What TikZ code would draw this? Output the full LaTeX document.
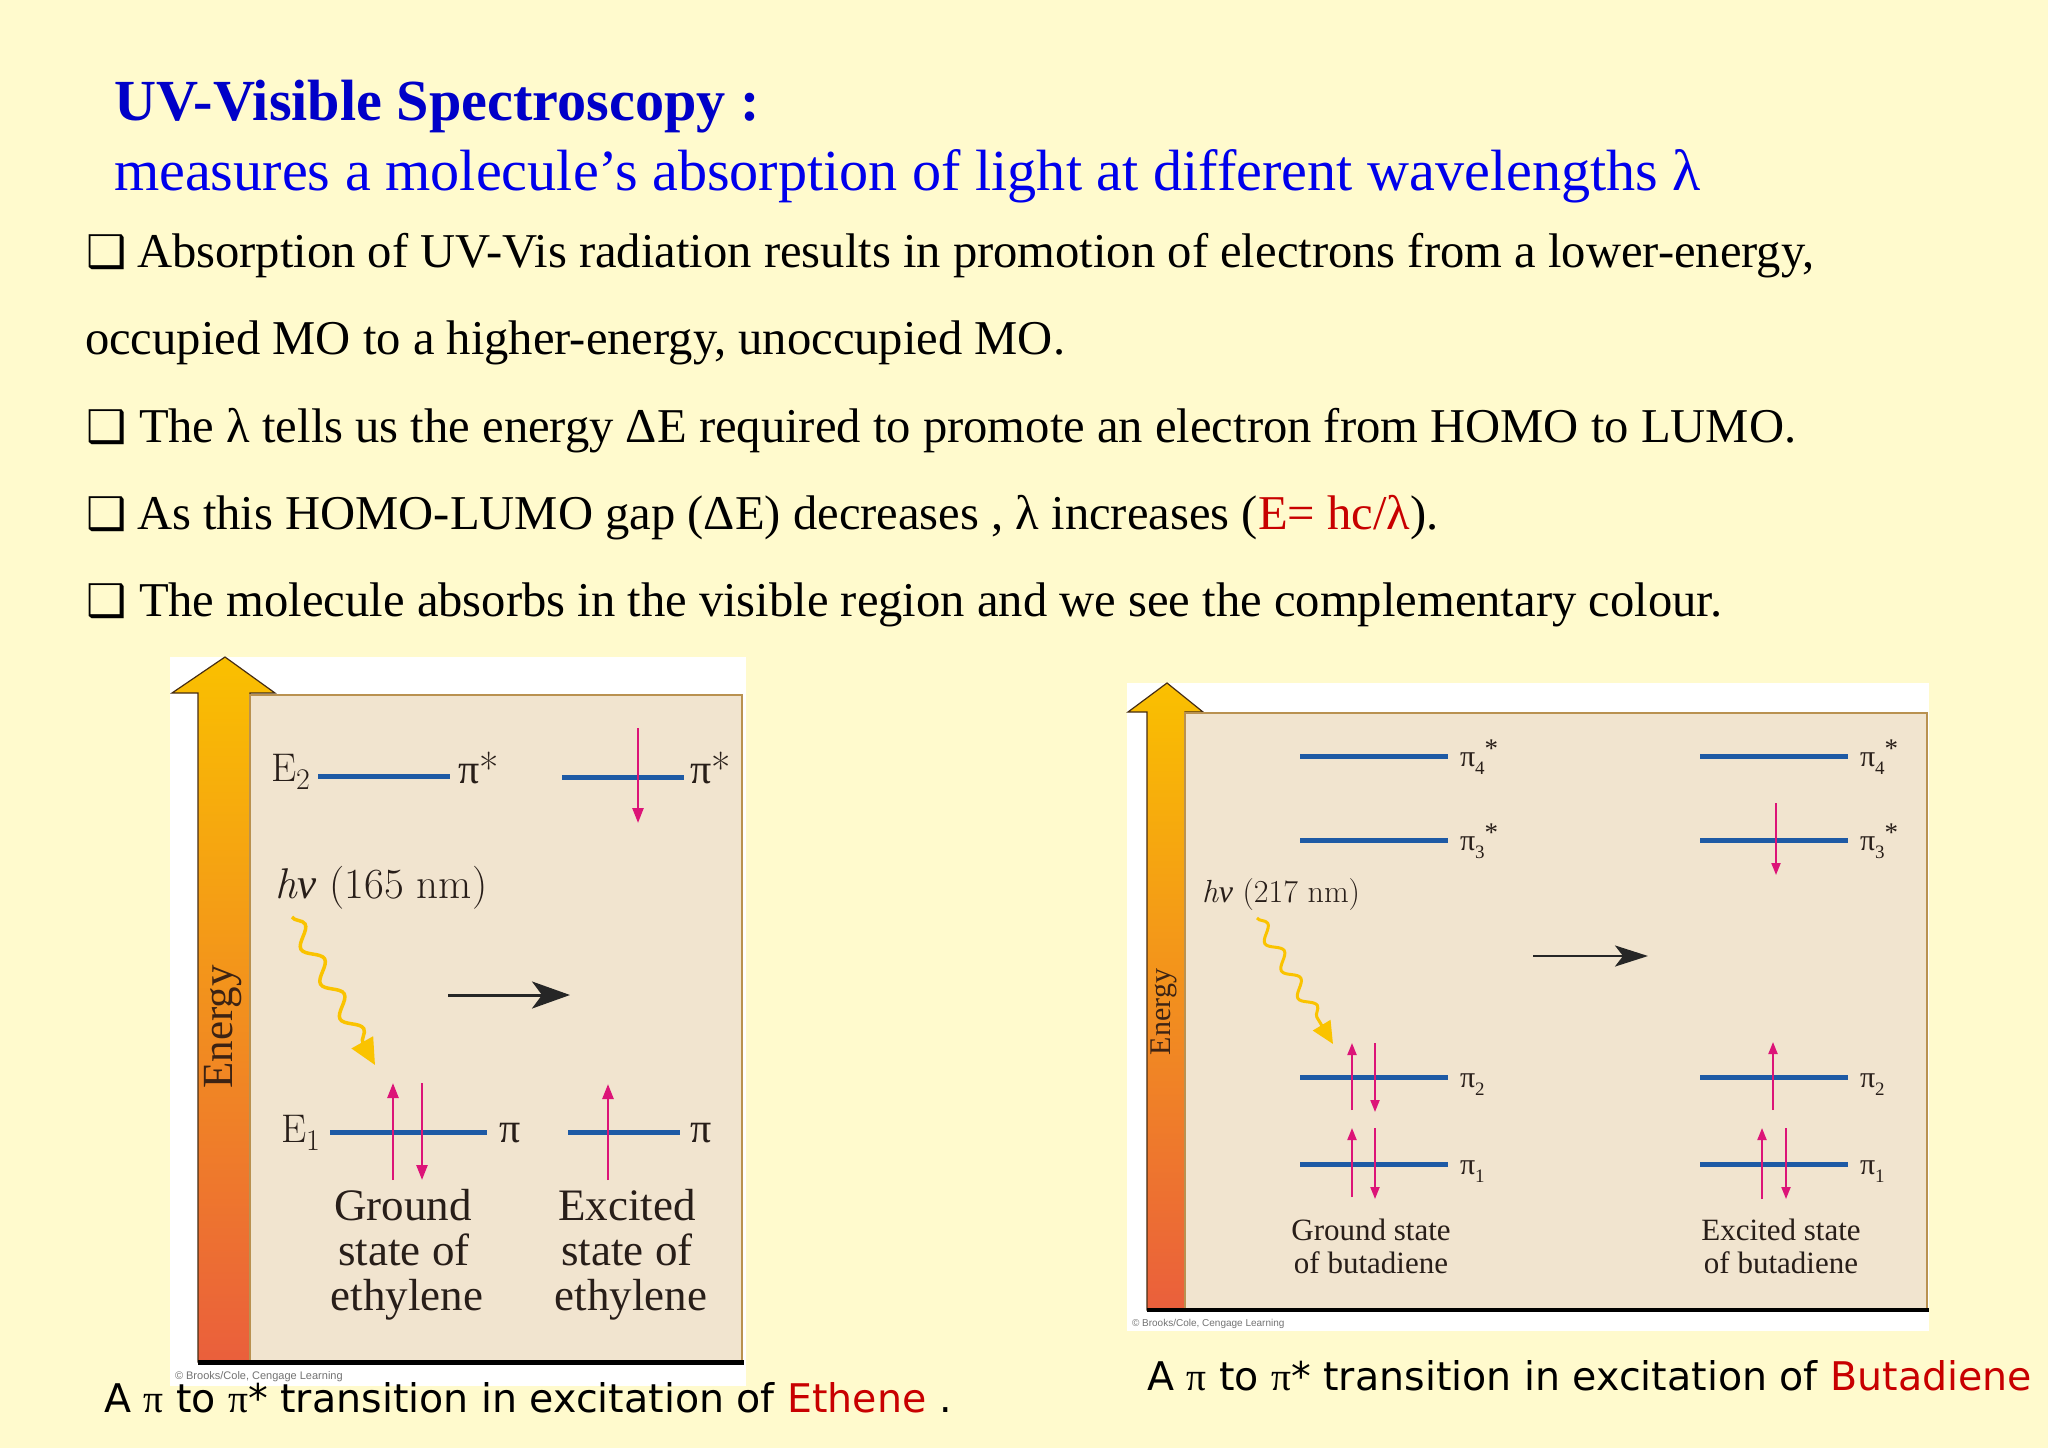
\documentclass[tikz,border=0pt]{standalone}
\usepackage{fontspec}
\newfontfamily\tnr{Liberation Serif}
\newfontfamily\dvs{DejaVu Sans}
\newfontfamily\lsans{Liberation Sans}
\usetikzlibrary{arrows.meta,decorations.pathmorphing}
\definecolor{bgy}{RGB}{255,250,205}
\definecolor{tblue}{RGB}{0,0,200}
\definecolor{sblue}{RGB}{0,0,235}
\definecolor{tred}{RGB}{200,0,0}
\definecolor{panelc}{RGB}{241,228,207}
\definecolor{pborder}{RGB}{185,145,80}
\definecolor{lvl}{RGB}{30,90,165}
\definecolor{epink}{RGB}{220,20,120}
\definecolor{wavey}{RGB}{250,195,0}
\definecolor{ytop}{RGB}{250,192,0}
\definecolor{ymid}{RGB}{244,148,35}
\definecolor{ybot}{RGB}{234,95,60}
\definecolor{edge}{RGB}{70,45,20}
\definecolor{ebrown}{RGB}{60,35,20}
\definecolor{dtext}{RGB}{40,30,25}
\newcommand{\esub}[2]{#1\raisebox{-0.22em}{\fontsize{30}{30}\selectfont #2}}
\newcommand{\hnu}{\textit{h}{\tnr\itshape ν}}
\newcommand{\pilab}[2]{π\raisebox{-0.28em}{\fontsize{19}{19}\selectfont #1}\raisebox{0.3em}{\fontsize{27}{27}\selectfont #2}}
\begin{document}
\begin{tikzpicture}[x=1pt,y=-1pt,
  every node/.style={inner sep=0pt,outer sep=0pt},
  bodytext/.style={anchor=base west,font={\tnr\fontsize{48.6}{56}\selectfont}},
  bullt/.style={anchor=base west,font={\dvs\fontsize{45}{48}\selectfont}},
  levelline/.style={line width=5pt,draw=lvl},
  elec/.style={line width=2.5pt,draw=epink,-{Triangle[length=15pt,width=11pt]}},
  wavearrow/.style={draw=wavey,line width=3.5pt,decorate,
    decoration={snake,amplitude=8pt,segment length=40pt,post length=24pt},
    -{Triangle[length=26pt,width=24pt,fill=wavey]}},
  blackarrow/.style={line width=3pt,draw=black!85,-{Stealth[length=38pt,width=27pt,inset=10pt]}},
  cmtext/.style={anchor=base west,text=dtext,font={\fontsize{40}{42}\selectfont}},
  statel/.style={anchor=base,text=dtext,font={\tnr\fontsize{45}{47}\selectfont}},
  bstate/.style={anchor=base,text=dtext,font={\tnr\fontsize{31}{33}\selectfont}},
  blab/.style={anchor=base west,text=dtext,font={\tnr\fontsize{30}{32}\selectfont}},
  captext/.style={anchor=base west,font={\dvs\fontsize{39.5}{41}\selectfont}},
  copyr/.style={anchor=base west,text=black!55,font={\lsans\fontsize{11}{12}\selectfont}}
]
\useasboundingbox (0,0) rectangle (2048,1448);
\fill[bgy] (0,0) rectangle (2048,1448);

% ---------- heading ----------
\node[anchor=base west,text=tblue,font={\tnr\bfseries\fontsize{58.2}{60}\selectfont}] (title) at (114,120) {UV-Visible Spectroscopy :};
\node[anchor=base west,text=sblue,font={\tnr\fontsize{58.2}{60}\selectfont}] (sub) at (114,190) {measures a molecule’s absorption of light at different wavelengths λ};

% ---------- bullets ----------
\node[bullt] (b1) at (86,267) {❑};
\node[bodytext] (l1) at (137,267) {Absorption of UV-Vis radiation results in promotion of electrons from a lower-energy,};
\node[bodytext] (l2) at (85,354) {occupied MO to a higher-energy, unoccupied MO.};
\node[bullt] (b3) at (86,442) {❑};
\node[bodytext] (l3) at (139,442) {The λ tells us the energy ΔE required to promote an electron from HOMO to LUMO.};
\node[bullt] (b4) at (86,529) {❑};
\node[bodytext] (l4) at (137,529) {As this HOMO-LUMO gap (ΔE) decreases , λ increases (\textcolor{tred}{E= hc/λ}).};
\node[bullt] (b5) at (86,616) {❑};
\node[bodytext] (l5) at (139,616) {The molecule absorbs in the visible region and we see the complementary colour.};

% ---------- left diagram (ethylene) ----------
\fill[white] (170,657) rectangle (746,1386);
\shade[top color=ytop,middle color=ymid,bottom color=ybot,draw=edge,line width=1.2pt]
  (198,1362) -- (198,693) -- (172,693) -- (225,657) -- (275,693) -- (250,693) -- (250,1362) -- cycle;
\filldraw[fill=panelc,draw=pborder,line width=2pt] (250,695) rectangle (742,1362);
\draw[line width=5pt,black] (198,1362) -- (744,1362);
\node[rotate=90,text=ebrown,font={\tnr\fontsize{43}{45}\selectfont}] (en1) at (223,1027) {Energy};

\node[cmtext] (e2) at (271,781) {\esub{E}{2}};
\draw[levelline] (318,776) -- (450,776);
\node[cmtext,font={\fontsize{42}{44}\selectfont}] (ps1) at (458,783) {{\tnr π}*};
\draw[levelline] (562,777) -- (684,777);
\node[cmtext,font={\fontsize{42}{44}\selectfont}] (ps2) at (690,783) {{\tnr π}*};
\coordinate (a1s) at (638,728); \coordinate (a1e) at (638,823);
\draw[elec] (a1s) -- (a1e);

\node[cmtext,font={\fontsize{43}{45}\selectfont}] (hv1) at (275,898) {\hnu{} (165 nm)};
\coordinate (w1s) at (292,917); \coordinate (w1e) at (375,1065);
\draw[wavearrow] (w1s) -- (w1e);
\coordinate (k1s) at (448,995); \coordinate (k1e) at (570,995);
\draw[blackarrow] (k1s) -- (k1e);

\node[cmtext] (e1) at (281,1142) {\esub{E}{1}};
\draw[levelline] (330,1132) -- (487,1132);
\node[cmtext,font={\fontsize{42}{44}\selectfont}] (p1) at (499,1142) {{\tnr π}};
\draw[levelline] (568,1132) -- (680,1132);
\node[cmtext,font={\fontsize{42}{44}\selectfont}] (p2) at (690,1142) {{\tnr π}};
\coordinate (u1s) at (393,1180); \coordinate (u1e) at (393,1083);
\coordinate (d1s) at (422,1083); \coordinate (d1e) at (422,1180);
\coordinate (u2s) at (608,1180); \coordinate (u2e) at (608,1084);
\draw[elec] (u1s) -- (u1e);
\draw[elec] (d1s) -- (d1e);
\draw[elec] (u2s) -- (u2e);

\node[statel] (g1) at (403,1220) {Ground};
\node[statel] (g2) at (404,1265) {state of};
\node[statel] (g3) at (407,1310) {ethylene};
\node[statel] (x1) at (627,1220) {Excited};
\node[statel] (x2) at (627,1265) {state of};
\node[statel] (x3) at (631,1310) {ethylene};
\node[copyr] (cp1) at (175,1379) {© Brooks/Cole, Cengage Learning};

% ---------- right diagram (butadiene) ----------
\fill[white] (1127,683) rectangle (1929,1331);
\shade[top color=ytop,middle color=ymid,bottom color=ybot,draw=edge,line width=1.2pt]
  (1147,1310) -- (1147,712) -- (1128,712) -- (1167,683) -- (1203,712) -- (1185,712) -- (1185,1310) -- cycle;
\filldraw[fill=panelc,draw=pborder,line width=2pt] (1185,713) rectangle (1927,1310);
\draw[line width=4pt,black] (1147,1310) -- (1929,1310);
\node[rotate=90,text=ebrown,font={\tnr\fontsize{30}{32}\selectfont}] (en2) at (1164,1012) {Energy};

\foreach \y in {756,840,1077,1164}{
  \draw[levelline] (1300,\y) -- (1448,\y);
  \draw[levelline] (1700,\y) -- (1848,\y);
}
\node[blab] (q4a) at (1460,766) {\pilab{4}{*}};
\node[blab] (q3a) at (1460,850) {\pilab{3}{*}};
\node[blab] (q2a) at (1460,1087) {\pilab{2}{}};
\node[blab] (q1a) at (1460,1174) {\pilab{1}{}};
\node[blab] (q4b) at (1860,766) {\pilab{4}{*}};
\node[blab] (q3b) at (1860,850) {\pilab{3}{*}};
\node[blab] (q2b) at (1860,1087) {\pilab{2}{}};
\node[blab] (q1b) at (1860,1174) {\pilab{1}{}};

\node[cmtext,font={\fontsize{32}{34}\selectfont}] (hv2) at (1202,902) {\hnu{} (217 nm)};
\coordinate (w2s) at (1257,918); \coordinate (w2e) at (1333,1044);
\draw[wavearrow,line width=3pt,decoration={snake,amplitude=6.5pt,segment length=32pt,post length=20pt},
  -{Triangle[length=22pt,width=20pt,fill=wavey]}] (w2s) -- (w2e);
\coordinate (k2s) at (1533,956); \coordinate (k2e) at (1648,956);
\draw[blackarrow,line width=2.5pt,-{Stealth[length=33pt,width=21pt,inset=8pt]}] (k2s) -- (k2e);

\tikzset{elec2/.style={line width=2pt,draw=epink,-{Triangle[length=12pt,width=9pt]}}}
% ground state
\coordinate (gu2s) at (1352,1110); \coordinate (gu2e) at (1352,1043);
\coordinate (gd2s) at (1375,1043); \coordinate (gd2e) at (1375,1112);
\coordinate (gu1s) at (1352,1197); \coordinate (gu1e) at (1352,1128);
\coordinate (gd1s) at (1375,1128); \coordinate (gd1e) at (1375,1199);
\draw[elec2] (gu2s) -- (gu2e);
\draw[elec2] (gd2s) -- (gd2e);
\draw[elec2] (gu1s) -- (gu1e);
\draw[elec2] (gd1s) -- (gd1e);
% excited state
\coordinate (xd3s) at (1776,803); \coordinate (xd3e) at (1776,875);
\coordinate (xu2s) at (1773,1110); \coordinate (xu2e) at (1773,1042);
\coordinate (xu1s) at (1762,1199); \coordinate (xu1e) at (1762,1128);
\coordinate (xd1s) at (1786,1128); \coordinate (xd1e) at (1786,1199);
\draw[elec2] (xd3s) -- (xd3e);
\draw[elec2] (xu2s) -- (xu2e);
\draw[elec2] (xu1s) -- (xu1e);
\draw[elec2] (xd1s) -- (xd1e);

\node[bstate] (bg1) at (1371,1240) {Ground state};
\node[bstate] (bg2) at (1371,1273) {of butadiene};
\node[bstate] (bx1) at (1781,1240) {Excited state};
\node[bstate] (bx2) at (1781,1273) {of butadiene};
\node[copyr,font={\lsans\fontsize{10}{11}\selectfont}] (cp2) at (1132,1326) {© Brooks/Cole, Cengage Learning};

% ---------- captions ----------
\node[captext] (c1) at (104,1412) {A {\tnr π} to {\tnr π}* transition in excitation of \textcolor{tred}{Ethene} .};
\node[captext] (c2) at (1147,1390) {A {\tnr π} to {\tnr π}* transition in excitation of \textcolor{tred}{Butadiene}};
\end{tikzpicture}
\end{document}
